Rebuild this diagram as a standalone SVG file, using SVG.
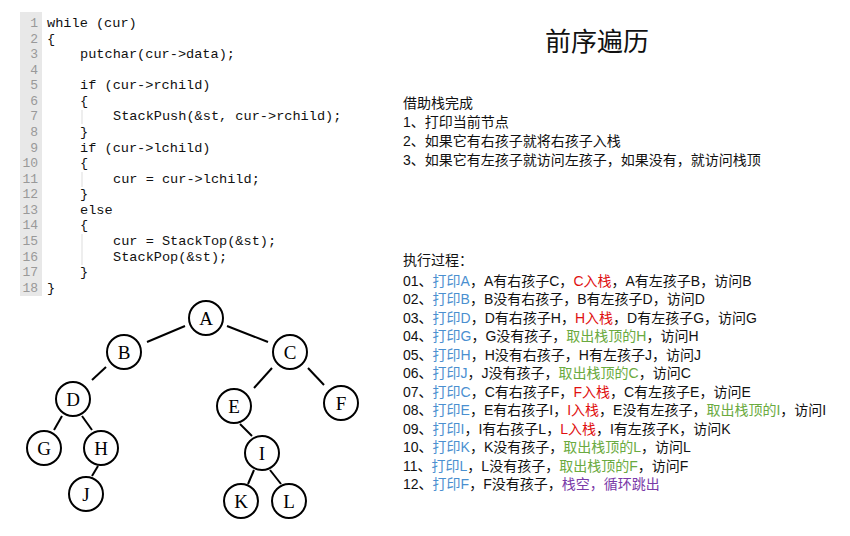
<svg xmlns="http://www.w3.org/2000/svg" width="850" height="536" viewBox="0 0 850 536">
<style>
.code{font-family:"Liberation Mono",monospace;font-size:13.6px;fill:#111;white-space:pre}
.ln{font-family:"Liberation Mono",monospace;font-size:13px;fill:#999;text-anchor:end}
.t{font-family:"Liberation Sans","Noto Sans CJK SC",sans-serif;font-size:14px;fill:#111}
.b{fill:#4a8fd0}.r{fill:#e01010}.g{fill:#6aaa40}.p{fill:#7a3aa8}
.node circle{fill:#fff;stroke:#000;stroke-width:2}
.node text{font-family:"Liberation Serif","DejaVu Serif",serif;font-size:19px;text-anchor:middle;fill:#000}
.edges line{stroke:#000;stroke-width:2}
.guide{stroke:#ddd;stroke-width:1}
</style>
<rect width="850" height="536" fill="#fff"/>
<rect x="20" y="12" width="22" height="284" fill="#e8e8e8"/>
<g class="ln">
<text x="38" y="27">1</text><text x="38" y="43">2</text><text x="38" y="58">3</text><text x="38" y="74">4</text><text x="38" y="89">5</text><text x="38" y="105">6</text><text x="38" y="120">7</text><text x="38" y="136">8</text><text x="38" y="152">9</text><text x="38" y="167">10</text><text x="38" y="183">11</text><text x="38" y="198">12</text><text x="38" y="214">13</text><text x="38" y="229">14</text><text x="38" y="245">15</text><text x="38" y="261">16</text><text x="38" y="276">17</text><text x="38" y="292">18</text>
</g>
<line class="guide" x1="82" y1="110" x2="82" y2="124"/>
<line class="guide" x1="82" y1="172" x2="82" y2="187"/>
<line class="guide" x1="82" y1="234" x2="82" y2="265"/>
<g class="code">
<text x="47" y="27">while (cur)</text>
<text x="47" y="43">{</text>
<text x="80" y="58">putchar(cur-&gt;data);</text>
<text x="80" y="89">if (cur-&gt;rchild)</text>
<text x="80" y="105">{</text>
<text x="113" y="120">StackPush(&amp;st, cur-&gt;rchild);</text>
<text x="80" y="136">}</text>
<text x="80" y="152">if (cur-&gt;lchild)</text>
<text x="80" y="167">{</text>
<text x="113" y="183">cur = cur-&gt;lchild;</text>
<text x="80" y="198">}</text>
<text x="80" y="214">else</text>
<text x="80" y="229">{</text>
<text x="113" y="245">cur = StackTop(&amp;st);</text>
<text x="113" y="261">StackPop(&amp;st);</text>
<text x="80" y="276">}</text>
<text x="47" y="292">}</text>
</g>
<g class="edges">
<line x1="185" y1="326" x2="147" y2="342"/>
<line x1="227" y1="326" x2="268" y2="342"/>
<line x1="106" y1="367" x2="92" y2="380"/>
<line x1="272" y1="368" x2="254" y2="388"/>
<line x1="308" y1="368" x2="324" y2="385"/>
<line x1="62" y1="416" x2="54" y2="430"/>
<line x1="82" y1="416" x2="92" y2="430"/>
<line x1="240" y1="424" x2="252" y2="436"/>
<line x1="98" y1="466" x2="92" y2="476"/>
<line x1="254" y1="470" x2="248" y2="484"/>
<line x1="270" y1="470" x2="281" y2="484"/>
</g>
<g class="node" id="nA"><circle cx="206" cy="318" r="17"/><text x="206" y="325">A</text></g>
<g class="node" id="nB"><circle cx="124" cy="352" r="17"/><text x="124" y="359">B</text></g>
<g class="node" id="nC"><circle cx="290" cy="352" r="17"/><text x="290" y="359">C</text></g>
<g class="node" id="nD"><circle cx="73" cy="399" r="17"/><text x="73" y="406">D</text></g>
<g class="node" id="nE"><circle cx="234" cy="406" r="17"/><text x="234" y="413">E</text></g>
<g class="node" id="nF"><circle cx="341" cy="403" r="17"/><text x="341" y="410">F</text></g>
<g class="node" id="nG"><circle cx="44" cy="448" r="17"/><text x="44" y="455">G</text></g>
<g class="node" id="nH"><circle cx="101" cy="448" r="17"/><text x="101" y="455">H</text></g>
<g class="node" id="nI"><circle cx="262" cy="453" r="17"/><text x="262" y="460">I</text></g>
<g class="node" id="nJ"><circle cx="86" cy="494" r="17"/><text x="86" y="501">J</text></g>
<g class="node" id="nK"><circle cx="241" cy="501" r="17"/><text x="241" y="508">K</text></g>
<g class="node" id="nL"><circle cx="289" cy="501" r="17"/><text x="289" y="508">L</text></g>
<text x="597" y="51" style="font-family:'Liberation Sans','Noto Sans CJK SC',sans-serif;font-size:26px;text-anchor:middle;fill:#111">前序遍历</text>
<g class="t">
<text x="403" y="108">借助栈完成</text>
<text x="403" y="127">1、打印当前节点</text>
<text x="403" y="146">2、如果它有右孩子就将右孩子入栈</text>
<text x="403" y="165">3、如果它有左孩子就访问左孩子，如果没有，就访问栈顶</text>
<text x="403" y="265">执行过程：</text>
<text x="403" y="286">01、<tspan class="b">打印A</tspan>，A有右孩子C，<tspan class="r">C入栈</tspan>，A有左孩子B，访问B</text>
<text x="403" y="304">02、<tspan class="b">打印B</tspan>，B没有右孩子，B有左孩子D，访问D</text>
<text x="403" y="323">03、<tspan class="b">打印D</tspan>，D有右孩子H，<tspan class="r">H入栈</tspan>，D有左孩子G，访问G</text>
<text x="403" y="341">04、<tspan class="b">打印G</tspan>，G没有孩子，<tspan class="g">取出栈顶的H</tspan>，访问H</text>
<text x="403" y="360">05、<tspan class="b">打印H</tspan>，H没有右孩子，H有左孩子J，访问J</text>
<text x="403" y="378">06、<tspan class="b">打印J</tspan>，J没有孩子，<tspan class="g">取出栈顶的C</tspan>，访问C</text>
<text x="403" y="397">07、<tspan class="b">打印C</tspan>，C有右孩子F，<tspan class="r">F入栈</tspan>，C有左孩子E，访问E</text>
<text x="403" y="415">08、<tspan class="b">打印E</tspan>，E有右孩子I，<tspan class="r">I入栈</tspan>，E没有左孩子，<tspan class="g">取出栈顶的I</tspan>，访问I</text>
<text x="403" y="434">09、<tspan class="b">打印I</tspan>，I有右孩子L，<tspan class="r">L入栈</tspan>，I有左孩子K，访问K</text>
<text x="403" y="452">10、<tspan class="b">打印K</tspan>，K没有孩子，<tspan class="g">取出栈顶的L</tspan>，访问L</text>
<text x="403" y="471">11、<tspan class="b">打印L</tspan>，L没有孩子，<tspan class="g">取出栈顶的F</tspan>，访问F</text>
<text x="403" y="489">12、<tspan class="b">打印F</tspan>，F没有孩子，<tspan class="p">栈空，循环跳出</tspan></text>
</g>
</svg>
